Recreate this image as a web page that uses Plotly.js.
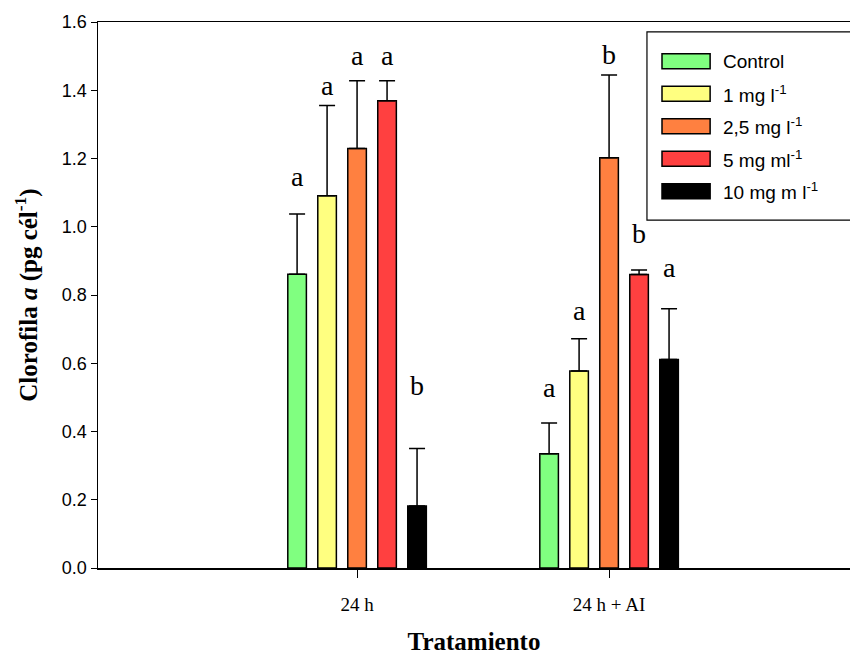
<!DOCTYPE html>
<html>
<head>
<meta charset="utf-8">
<script src="https://cdn.plot.ly/plotly-3.0.1.min.js"></script>
<style>html,body{margin:0;padding:0;background:#fff;}#chart{width:850px;height:655px;}</style>
</head>
<body>
<div id="chart"></div>
<script>
// ---- data ----
var categories = ['24 h', '24 h + AI'];
var seriesNames = ['Control', '1 mg l<sup>-1</sup>', '2,5 mg l<sup>-1</sup>', '5 mg ml<sup>-1</sup>', '10 mg m l<sup>-1</sup>'];
var seriesColors = ['#80FF80', '#FFFF80', '#FF8040', '#FF4040', '#000000'];
var control   = [0.861, 0.335];
var mg1       = [1.091, 0.577];
var mg25      = [1.229, 1.202];
var mg5       = [1.369, 0.860];
var mg10      = [0.182, 0.611];
var errControl = [0.176, 0.090];
var errMg1     = [0.264, 0.095];
var errMg25    = [0.199, 0.243];
var errMg5     = [0.059, 0.013];
var errMg10    = [0.168, 0.149];
var letters = [['a','a','a','a','b'], ['a','a','b','b','a']];
var letterY = [[1.143, 1.410, 1.498, 1.498, 0.531], [0.527, 0.751, 1.503, 0.976, 0.879]];

var values = [control, mg1, mg25, mg5, mg10];
var errors = [errControl, errMg1, errMg25, errMg5, errMg10];

var bargap = 0.405;
var nSeries = values.length;
var slot = (1 - bargap) / nSeries;

var traces = values.map(function (v, i) {
  return {
    type: 'bar',
    x: categories,
    y: v,
    name: seriesNames[i],
    marker: { color: seriesColors[i], line: { color: '#000', width: 1.5 } },
    error_y: {
      type: 'data', array: errors[i], arrayminus: v.map(function () { return 0; }),
      symmetric: false, color: '#000', thickness: 1.5, width: 8
    },
    showlegend: false,
    hoverinfo: 'x+y'
  };
});

var annotations = [];
letters.forEach(function (row, c) {
  row.forEach(function (t, i) {
    annotations.push({
      xref: 'x', yref: 'y', x: c + (i - (nSeries - 1) / 2) * slot, y: letterY[c][i],
      text: t, showarrow: false, xanchor: 'center', yanchor: 'middle', yshift: 1,
      font: { family: 'Liberation Serif, DejaVu Serif, serif', size: 28, color: '#000' }
    });
  });
});

// manual legend (paper coords)
var shapes = [{
  type: 'rect', xref: 'paper', yref: 'paper', x0: 0.730, x1: 1.03, y0: 0.637, y1: 0.982,
  line: { color: '#000', width: 1.2 }, fillcolor: 'rgba(0,0,0,0)'
}];
var legTop = 0.928, legStep = 0.0595, swH = 0.0137;
seriesNames.forEach(function (nm, i) {
  var yc = legTop - i * legStep;
  shapes.push({
    type: 'rect', xref: 'paper', yref: 'paper', x0: 0.750, x1: 0.814, y0: yc - swH, y1: yc + swH,
    line: { color: '#000', width: 1.5 }, fillcolor: seriesColors[i]
  });
  annotations.push({
    xref: 'paper', yref: 'paper', x: 0.828, y: yc, text: nm, showarrow: false,
    xanchor: 'left', yanchor: 'middle',
    font: { family: 'Liberation Sans, Arial, sans-serif', size: 19, color: '#000' }
  });
});

var layout = {
  width: 850, height: 655,
  margin: { l: 98, r: 0, t: 22, b: 87 },
  paper_bgcolor: '#fff', plot_bgcolor: '#fff',
  barmode: 'group', bargap: bargap, bargroupgap: 0.38,
  showlegend: false,
  xaxis: {
    type: 'category', range: [-1.028, 1.956],
    showline: true, linecolor: '#000', linewidth: 1.5, mirror: true,
    ticks: 'outside', ticklen: 8, tickwidth: 1, tickcolor: '#000',
    showgrid: false, zeroline: false, ticklabelstandoff: 11,
    tickfont: { family: 'Liberation Serif, DejaVu Serif, serif', size: 19, color: '#000' },
    title: { text: '<b>Tratamiento</b>', standoff: 26,
      font: { family: 'Liberation Serif, DejaVu Serif, serif', size: 25, color: '#000' } }
  },
  yaxis: {
    range: [0, 1.6], dtick: 0.2, tickformat: '.1f',
    showline: true, linecolor: '#000', linewidth: 1.5,
    ticks: 'outside', ticklen: 6, tickwidth: 1, tickcolor: '#000',
    showgrid: false, zeroline: false,
    tickfont: { family: 'Liberation Sans, Arial, sans-serif', size: 18, color: '#000' },
    title: { text: '<b>Clorofila <i>a</i> (pg cél<sup>-1</sup>)</b>', standoff: 17,
      font: { family: 'Liberation Serif, DejaVu Serif, serif', size: 25, color: '#000' } }
  },
  annotations: annotations,
  shapes: shapes
};

Plotly.newPlot('chart', traces, layout, { displayModeBar: false, staticPlot: true });
</script>
</body>
</html>
